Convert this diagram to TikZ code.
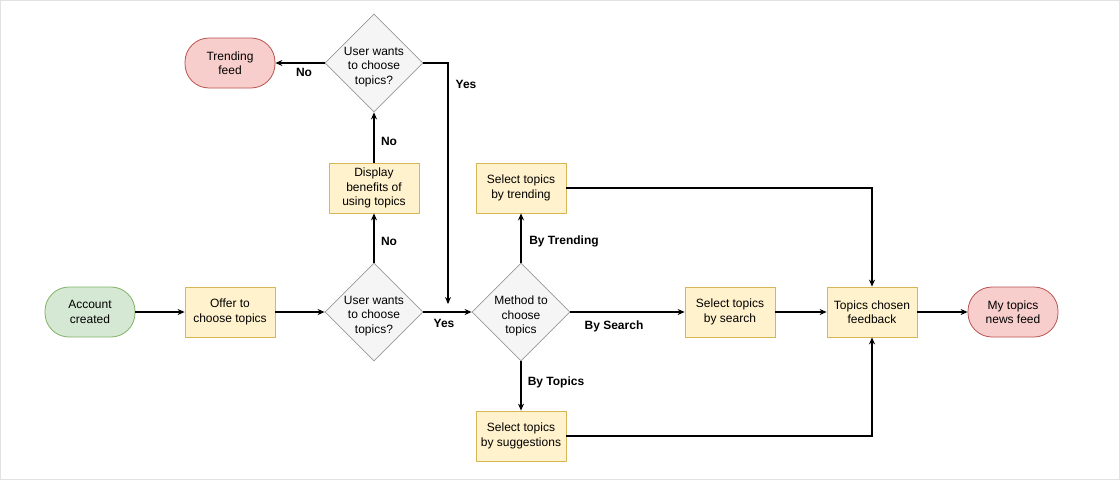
\documentclass[tikz,border=0pt]{standalone}
\usepackage{fontspec}
\setmainfont{Liberation Sans}
\usetikzlibrary{shapes.geometric,arrows.meta}
\definecolor{grfill}{HTML}{D5E8D4}\definecolor{grline}{HTML}{82B366}
\definecolor{yefill}{HTML}{FFF2CC}\definecolor{yeline}{HTML}{D6B656}
\definecolor{rdfill}{HTML}{F8CECC}\definecolor{rdline}{HTML}{B85450}
\definecolor{dgfill}{HTML}{F5F5F5}\definecolor{dgline}{HTML}{999999}
\definecolor{frame}{HTML}{E2E2E2}
\tikzset{
  base/.style={font=\fontsize{12}{14.4}\selectfont, align=center, inner sep=0pt, line width=0.8pt},
  proc/.style={base, draw=yeline, fill=yefill, minimum width=90pt, minimum height=50pt},
  term/.style={base, draw=grline, fill=grfill, rounded corners=24pt, minimum width=90pt, minimum height=50pt},
  endt/.style={term, draw=rdline, fill=rdfill},
  dia/.style={base, shape=diamond, draw=dgline, fill=dgfill, minimum width=98pt, minimum height=98pt},
  txt/.style={font=\fontsize{12}{14.4}\selectfont, align=center, inner sep=0pt, yshift=-4pt},
  lbl/.style={font=\fontsize{12}{14.4}\selectfont\bfseries, inner sep=0pt},
  arr/.style={line width=1.1pt, -{Stealth[length=7pt,width=6pt]}, rounded corners=0pt},
}
\begin{document}
\begin{tikzpicture}[x=1pt,y=-1pt]
\draw[frame, line width=1pt, fill=white] (0.5,0.5) rectangle (1119.5,479.5);
\useasboundingbox (0,0) rectangle (1120,480);
% nodes
\node[term] (acc) at (90,312) {Account\\created};
\node[proc] (offer) at (230,312) {Offer to\\choose topics};
\node[dia, label={[txt]center:User wants\\to choose\\topics?}] (d1) at (374,312) {};
\node[proc] (disp) at (374,188) {Display\\benefits of\\using topics};
\node[dia, label={[txt]center:User wants\\to choose\\topics?}] (d2) at (374,63) {};
\node[endt] (trend) at (230,63) {Trending\\feed};
\node[dia, label={[txt]center:Method to\\choose\\topics}] (meth) at (521,312) {};
\node[proc] (strend) at (521,188) {Select topics\\by trending};
\node[proc] (ssugg) at (521,436) {Select topics\\by suggestions};
\node[proc] (ssearch) at (730,312) {Select topics\\by search};
\node[proc] (feed) at (872,312) {Topics chosen\\feedback};
\node[endt] (mynews) at (1013,312) {My topics\\news feed};
\coordinate (yesend) at (448,304);
% connectors
\draw[arr] (acc) -- (offer);
\draw[arr] (offer) -- (d1);
\draw[arr] (d1) -- (meth);
\draw[arr] (d1) -- (disp);
\draw[arr] (disp) -- (d2);
\draw[arr] (d2) -- (trend);
\draw[arr] (d2.east) -| (yesend);
\draw[arr] (meth) -- (strend);
\draw[arr] (meth) -- (ssugg);
\draw[arr] (meth) -- (ssearch);
\draw[arr] (ssearch) -- (feed);
\draw[arr] (feed) -- (mynews);
\draw[arr] (strend.east) -| (feed.north);
\draw[arr] (ssugg.east) -| (feed.south);
% labels
\node[lbl] (l1) at (304,72) {No};
\node[lbl] (l2) at (466,84) {Yes};
\node[lbl] (l3) at (389,141) {No};
\node[lbl] (l4) at (389,241) {No};
\node[lbl] (l5) at (444,323) {Yes};
\node[lbl] (l6) at (564,241) {By Trending};
\node[lbl] (l7) at (614,326) {By Search};
\node[lbl] (l8) at (556,382) {By Topics};
\end{tikzpicture}
\end{document}
